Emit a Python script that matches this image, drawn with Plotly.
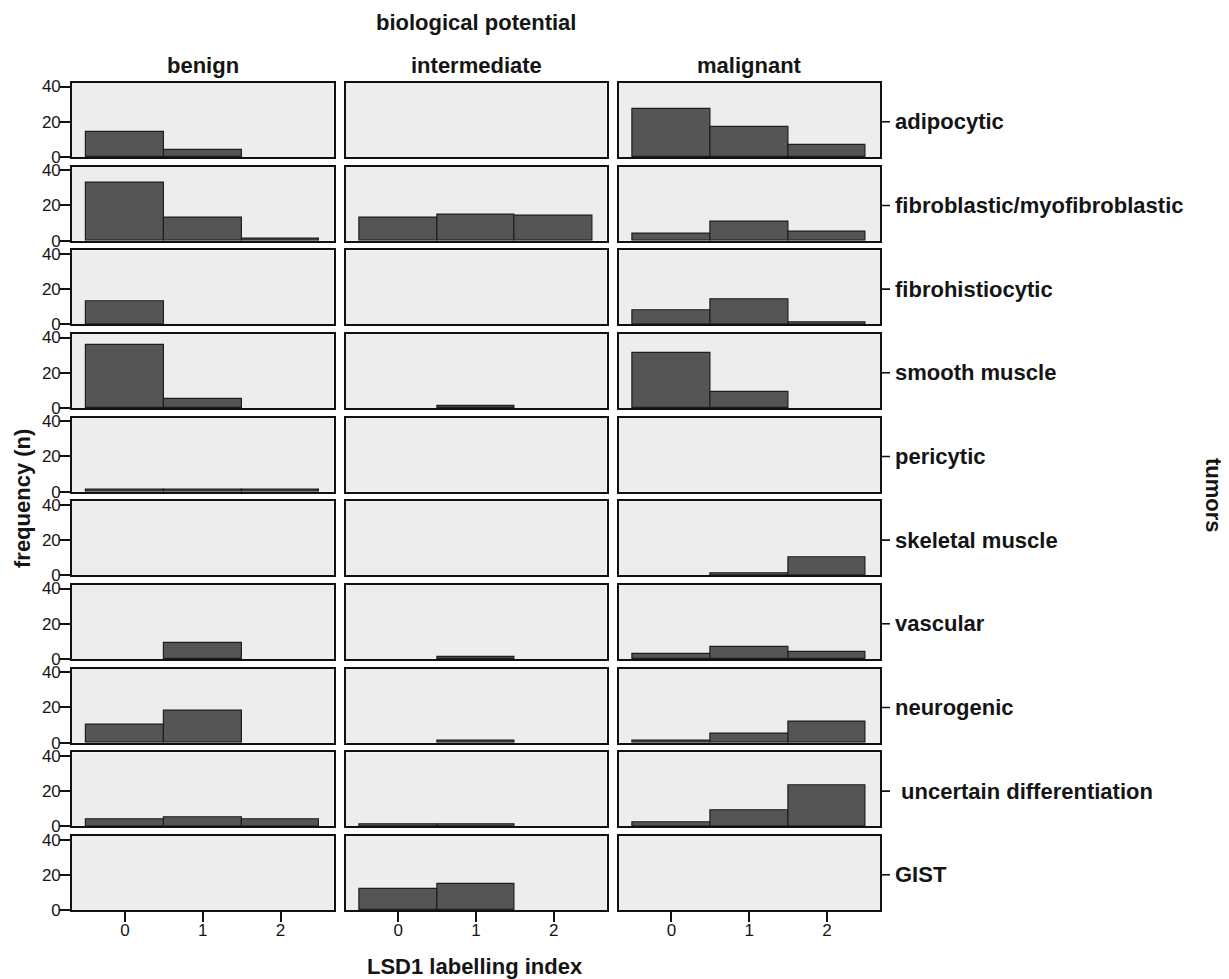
import plotly.graph_objects as go

tumors = ["adipocytic", "fibroblastic/myofibroblastic", "fibrohistiocytic", "smooth muscle",
          "pericytic", "skeletal muscle", "vascular", "neurogenic",
          "\u00a0uncertain differentiation", "GIST"]
potential = ["benign", "intermediate", "malignant"]
lsd1_index = [0, 1, 2]

benign = [[14, 4, 0], [33, 13, 1], [13, 0, 0], [36, 5, 0], [1, 1, 1],
          [0, 0, 0], [0, 9, 0], [10, 18, 0], [4, 5, 4], [0, 0, 0]]
intermediate = [[0, 0, 0], [13, 15, 14], [0, 0, 0], [0, 1, 0], [0, 0, 0],
                [0, 0, 0], [0, 1, 0], [0, 1, 0], [1, 1, 0], [12, 15, 0]]
malignant = [[27, 17, 7], [4, 11, 5], [8, 14, 1], [31, 9, 0], [0, 0, 0],
             [0, 1, 10], [3, 7, 4], [1, 5, 12], [2, 9, 23], [0, 0, 0]]
yticks = [0, 20, 40]

# page has an 8px body margin; work in page pixel coordinates
OX, OY = 8, 8
W, H = 1229 - OX, 979 - OY
ML, MT = 72 - OX, 83 - OY
MR, MB = W - (880 - OX), H - (910 - OY)
PW, PH = W - ML - MR, H - MT - MB


def fx(px):
    return (px - OX - ML) / PW


def fy(py):
    return 1 - (py - OY - MT) / PH


def clamp(v):
    return min(1.0, max(0.0, v))


col_px = [(72, 333.5), (345.5, 606.5), (618.5, 880)]
row_top0, row_pitch, row_h = 83, 83.67, 74.0

FONT = "Liberation Sans, Arial, sans-serif"
TXT = "#151515"

fig = go.Figure()
layout = {}
columns = [benign, intermediate, malignant]
nrows = len(tumors)
for r in range(nrows):
    top = row_top0 + r * row_pitch
    ydom = [clamp(fy(top + row_h)), clamp(fy(top))]
    for c in range(3):
        idx = r * 3 + c + 1
        sfx = "" if idx == 1 else str(idx)
        vals = [v if v > 0 else None for v in columns[c][r]]
        fig.add_trace(go.Bar(
            x=lsd1_index, y=vals, width=1,
            marker=dict(color="#555555", line=dict(color="#1e1e1e", width=1.2)),
            xaxis="x" + sfx, yaxis="y" + sfx, showlegend=False, hoverinfo="x+y"))
        xdom = [clamp(fx(col_px[c][0])), clamp(fx(col_px[c][1]))]
        last = (r == nrows - 1)
        layout["xaxis" + sfx] = dict(
            domain=xdom, anchor="y" + sfx, range=[-0.68, 2.68],
            showline=True, mirror=True, linecolor="#111", linewidth=1.6,
            showgrid=False, zeroline=False,
            tickvals=lsd1_index if last else [],
            ticks="outside" if last else "",
            ticklen=10, tickcolor="#111", tickwidth=1.6,
            showticklabels=last, ticklabelstandoff=-6,
            tickfont=dict(family=FONT, size=17, color=TXT))
        layout["yaxis" + sfx] = dict(
            domain=ydom, anchor="x" + sfx, range=[0, 42],
            showline=True, mirror=True, linecolor="#111", linewidth=1.6,
            showgrid=False, zeroline=False,
            tickvals=yticks if c == 0 else [],
            ticks="outside" if c == 0 else "",
            ticklen=10, tickcolor="#111", tickwidth=1.6,
            showticklabels=(c == 0), ticklabelstandoff=-4,
            tickfont=dict(family=FONT, size=17, color=TXT))

fig.update_layout(**layout)

annotations = []
shapes = []
bold22 = dict(family=FONT, size=22, color=TXT, weight="bold")
for r, name in enumerate(tumors):
    yref = "y" + str(r * 3 + 3)
    shapes.append(dict(type="line", xref="paper", yref=yref,
                       x0=fx(880), x1=fx(890), y0=20, y1=20,
                       line=dict(color="#111", width=1.6)))
    annotations.append(dict(text=name, xref="paper", yref=yref,
                            x=fx(893), y=20, xanchor="left", yanchor="middle",
                            showarrow=False, font=bold22))

for c, name in enumerate(potential):
    annotations.append(dict(text=name, xref="paper", yref="paper",
                            x=fx((col_px[c][0] + col_px[c][1]) / 2), y=fy(66),
                            xanchor="center", yanchor="middle",
                            showarrow=False, font=bold22))

annotations.append(dict(text="biological potential", xref="paper", yref="paper",
                        x=fx(476), y=fy(22), xanchor="center", yanchor="middle",
                        showarrow=False, font=bold22))
annotations.append(dict(text="frequency (n)", xref="paper", yref="paper",
                        x=fx(22), y=fy(499), textangle=-90,
                        xanchor="center", yanchor="middle", showarrow=False, font=bold22))
annotations.append(dict(text="tumors", xref="paper", yref="paper",
                        x=fx(1214), y=fy(495), textangle=90,
                        xanchor="center", yanchor="middle", showarrow=False, font=bold22))
annotations.append(dict(text="LSD1 labelling index", xref="paper", yref="paper",
                        x=fx(475), y=fy(966), xanchor="center", yanchor="middle",
                        showarrow=False, font=bold22))

fig.update_layout(
    width=W, height=H, autosize=False,
    margin=dict(l=ML, r=MR, t=MT, b=MB),
    paper_bgcolor="white", plot_bgcolor="#ededed",
    bargap=0, annotations=annotations, shapes=shapes,
    font=dict(family=FONT, color=TXT),
    showlegend=False)

fig.write_html("out.html")
